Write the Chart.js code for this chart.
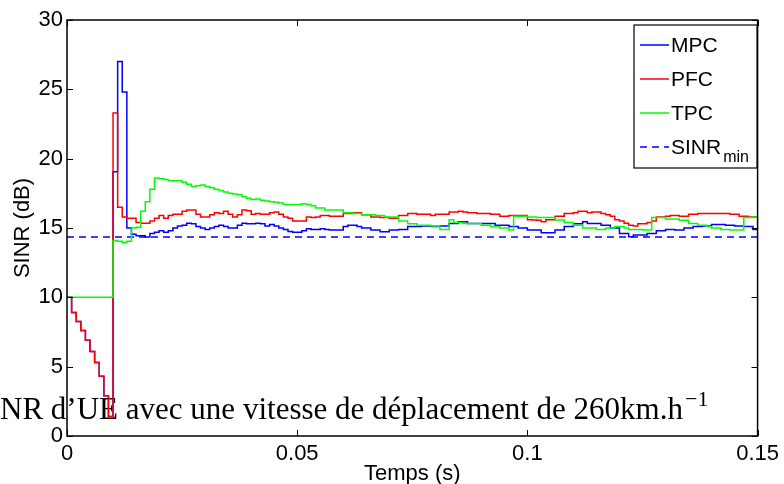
<!DOCTYPE html>
<html>
<head>
<meta charset="utf-8">
<script src="https://cdn.jsdelivr.net/npm/chart.js@4.4.0/dist/chart.umd.min.js"></script>
<style>
  html, body { margin: 0; padding: 0; background: #fff; }
</style>
</head>
<body>
<canvas id="chart" width="784" height="484"></canvas>
<script>
// SINR per time step (dB), one value per 1 ms sample
const sampleTime = 0.001;

const mpcSinr = [10, 8.9, 8.25, 7.6, 6.9, 6.1, 5.3, 4.3, 2.9, 1.4,
  19.05, 27.0, 24.8, 15.0, 14.55, 14.45, 14.45, 14.35, 14.6, 14.7,
  14.8, 14.7, 14.8, 15.0, 15.15, 15.2, 15.35, 15.3, 15.1, 15.0,
  14.9, 15.0, 15.1, 15.2, 15.1, 15.0, 15.0, 15.2, 15.35, 15.3,
  15.3, 15.35, 15.3, 15.15, 15.25, 15.15, 15.0, 14.9, 14.75, 14.7,
  14.7, 14.8, 14.95, 14.9, 14.9, 14.95, 14.9, 14.85, 14.85, 14.85,
  15.1, 15.2, 15.2, 15.1, 15.0, 15.0, 14.85, 14.85, 14.73, 14.73,
  14.85, 14.85, 14.9, 14.9, 15.1, 15.1, 15.1, 15.15, 15.15, 15.1,
  15.1, 15.15, 15.15, 15.33, 15.33, 15.45, 15.45, 15.33, 15.33, 15.33,
  15.33, 15.33, 15.33, 15.2, 15.2, 15.2, 15.1, 15.1, 15.0, 15.0,
  14.85, 14.85, 14.85, 14.65, 14.65, 14.65, 14.85, 14.85, 15.1, 15.1,
  15.3, 15.3, 15.45, 15.33, 15.33, 15.33, 15.2, 15.2, 15.0, 15.0,
  14.6, 14.6, 14.37, 14.49, 14.49, 14.49, 14.6, 14.6, 14.8, 14.8,
  14.9, 14.9, 14.85, 14.85, 15.0, 15.0, 15.1, 15.1, 15.15, 15.15,
  15.25, 15.25, 15.25, 15.2, 15.2, 15.15, 15.15, 15.1, 15.1, 14.9,
  14.9];

const pfcSinr = [10, 8.9, 8.25, 7.6, 6.9, 6.1, 5.3, 4.3, 2.9, 1.4,
  23.3, 16.5, 15.8, 15.7, 15.7, 15.4, 15.35, 15.35, 15.5, 15.7,
  15.9, 15.7, 15.9, 16.0, 16.0, 16.2, 16.3, 16.3, 16.0, 15.8,
  15.8, 15.95, 16.1, 16.05, 16.2, 16.0, 15.8, 15.95, 16.3, 16.25,
  16.0, 16.05, 16.0, 16.0, 16.1, 16.15, 16.0, 15.8, 15.7, 15.5,
  15.5, 15.5, 15.8, 15.75, 15.8, 15.9, 15.9, 15.85, 15.85, 15.85,
  16.05, 16.05, 16.1, 16.1, 15.95, 15.95, 15.8, 15.8, 15.75, 15.75,
  15.7, 15.7, 15.9, 15.9, 16.05, 16.05, 16.0, 16.0, 16.0, 15.9,
  16.0, 16.0, 16.0, 16.15, 16.15, 16.2, 16.15, 16.1, 16.1, 16.05,
  16.05, 16.05, 16.0, 16.0, 15.85, 15.85, 15.9, 15.9, 15.9, 15.9,
  15.6, 15.57, 15.55, 15.45, 15.6, 15.6, 15.85, 15.85, 16.05, 16.05,
  16.1, 16.2, 16.2, 16.1, 16.15, 16.15, 16.05, 15.95, 15.85, 15.6,
  15.5, 15.35, 15.2, 15.15, 15.3, 15.3, 15.4, 15.5, 15.8, 15.8,
  15.85, 15.9, 15.9, 15.85, 15.85, 16.0, 16.0, 16.05, 16.05, 16.05,
  16.05, 16.05, 16.05, 16.05, 16.0, 16.0, 15.85, 15.85, 15.8, 15.8,
  15.8];

const tpcSinr = [10, 10, 10, 10, 10, 10, 10, 10, 10, 10,
  14.1, 14.05, 13.95, 14.05, 15.0, 15.05, 16.2, 16.9, 17.8, 18.6,
  18.55, 18.5, 18.4, 18.4, 18.4, 18.3, 18.15, 18.0, 18.05, 18.1,
  18.0, 17.9, 17.8, 17.7, 17.6, 17.5, 17.45, 17.4, 17.25, 17.15,
  17.05, 17.1, 17.0, 16.95, 16.9, 16.85, 16.8, 16.7, 16.7, 16.7,
  16.7, 16.75, 16.7, 16.6, 16.45, 16.45, 16.3, 16.3, 16.3, 16.3,
  16.1, 16.1, 16.05, 16.05, 15.95, 15.95, 15.95, 15.9, 15.9, 15.8,
  15.8, 15.8, 15.5, 15.5, 15.3, 15.3, 15.2, 15.2, 15.2, 15.15,
  15.15, 14.9, 14.9, 15.6, 15.4, 15.4, 15.33, 15.33, 15.33, 15.33,
  15.2, 15.2, 15.1, 15.1, 15.0, 15.0, 14.85, 15.85, 15.85, 15.85,
  15.8, 15.8, 15.75, 15.75, 15.75, 15.75, 15.57, 15.57, 15.4, 15.4,
  15.2, 15.2, 15.0, 15.0, 15.0, 14.9, 14.9, 15.0, 15.0, 15.1,
  15.1, 15.0, 14.9, 14.9, 14.9, 14.85, 14.85, 15.75, 15.75, 15.75,
  15.65, 15.65, 15.65, 15.55, 15.55, 15.33, 15.33, 15.2, 15.2, 15.1,
  15.0, 15.0, 14.9, 14.9, 14.85, 14.85, 14.85, 15.75, 15.75, 15.8,
  15.8];

const sinrMin = 14.35;
const timeRange = [0, 0.15];
const timeTicks = [0, 0.05, 0.1, 0.15];
const sinrTicks = [0, 5, 10, 15, 20, 25, 30];

const caption = 'SINR d\u2019UE avec une vitesse de d\u00e9placement de 260km.h';
const captionExp = '\u22121';

const times = mpcSinr.map((_, i) => i * sampleTime);
const toPoints = (vals) => vals.map((v, i) => ({ x: times[i], y: v }));

Chart.defaults.font.family = '"Liberation Sans", Arial, sans-serif';
Chart.defaults.color = '#000';

// matlab style box, inward ticks, overlaid caption and legend
const matlabFrame = {
  id: 'matlabFrame',
  beforeDatasetsDraw(chart) {
    const ctx = chart.ctx;
    ctx.save();
    ctx.fillStyle = '#000';
    ctx.textBaseline = 'alphabetic';
    ctx.font = '28px "Liberation Serif"';
    // the caption is cut at the left edge: "SI" falls outside the picture
    const visible = ctx.measureText(caption).width - ctx.measureText('SI').width;
    const size = 28 * 683 / visible;
    ctx.font = size.toFixed(2) + 'px "Liberation Serif"';
    const w = ctx.measureText(caption).width;
    ctx.fillText(caption, 683 - w, 419);
    ctx.font = Math.round(size * 0.7) + 'px "Liberation Serif"';
    ctx.fillText(captionExp, 685, 406);
    ctx.restore();
  },
  afterDatasetsDraw(chart) {
    const ctx = chart.ctx;
    const a = chart.chartArea;
    const xs = chart.scales.x, ys = chart.scales.y;
    ctx.save();
    ctx.strokeStyle = '#000';
    ctx.lineWidth = 1.5;
    ctx.strokeRect(a.left, a.top, a.right - a.left, a.bottom - a.top);
    ctx.lineWidth = 1;
    ctx.beginPath();
    ys.ticks.forEach(t => {
      const y = Math.round(ys.getPixelForValue(t.value)) + 0.5;
      ctx.moveTo(a.left, y); ctx.lineTo(a.left + 6, y);
      ctx.moveTo(a.right, y); ctx.lineTo(a.right - 6, y);
    });
    xs.ticks.forEach(t => {
      const x = Math.round(xs.getPixelForValue(t.value)) + 0.5;
      ctx.moveTo(x, a.bottom); ctx.lineTo(x, a.bottom - 6);
      ctx.moveTo(x, a.top); ctx.lineTo(x, a.top + 6);
    });
    ctx.stroke();

    // legend box
    const bx = 634, by = 25, bw = 123, bh = 143;
    ctx.fillStyle = '#fff';
    ctx.fillRect(bx, by, bw, bh);
    ctx.lineWidth = 1.2;
    ctx.strokeRect(bx, by, bw, bh);
    chart.data.datasets.forEach((ds, i) => {
      const y = by + 20 + i * 34;
      ctx.strokeStyle = ds.borderColor;
      ctx.lineWidth = 1.5;
      ctx.setLineDash(ds.borderDash || []);
      ctx.beginPath();
      ctx.moveTo(bx + 6, y); ctx.lineTo(bx + 35, y);
      ctx.stroke();
      ctx.setLineDash([]);
      ctx.fillStyle = '#000';
      ctx.textBaseline = 'middle';
      ctx.font = '21px "Liberation Sans", Arial';
      const parts = ds.label.split('_');
      ctx.fillText(parts[0], bx + 37, y + 1);
      if (parts[1]) {
        const w0 = ctx.measureText(parts[0]).width;
        ctx.font = '16px "Liberation Sans", Arial';
        ctx.fillText(parts[1], bx + 37 + w0 + 2, y + 11);
      }
    });
    ctx.restore();
  }
};

new Chart(document.getElementById('chart'), {
  type: 'line',
  data: {
    datasets: [
      {
        label: 'MPC',
        data: toPoints(mpcSinr),
        borderColor: '#0000ff',
        borderWidth: 1.5,
        stepped: true,
        pointRadius: 0,
        order: 3
      },
      {
        label: 'PFC',
        data: toPoints(pfcSinr),
        borderColor: '#ff0000',
        borderWidth: 1.5,
        stepped: true,
        pointRadius: 0,
        order: 2
      },
      {
        label: 'TPC',
        data: toPoints(tpcSinr),
        borderColor: '#00ff00',
        borderWidth: 1.5,
        stepped: true,
        pointRadius: 0,
        order: 1
      },
      {
        label: 'SINR_min',
        data: timeRange.map(t => ({ x: t, y: sinrMin })),
        borderColor: '#0000ff',
        borderWidth: 1.5,
        borderDash: [7, 5],
        pointRadius: 0,
        order: 4
      }
    ]
  },
  options: {
    responsive: false,
    animation: false,
    events: [],
    layout: {
      padding: { top: 20, right: 22, left: 0, bottom: 0 }
    },
    plugins: {
      legend: { display: false },
      tooltip: { enabled: false }
    },
    scales: {
      x: {
        type: 'linear',
        min: timeRange[0],
        max: timeRange[1],
        afterFit: s => { s.height = 48; },
        afterBuildTicks: s => { s.ticks = timeTicks.map(v => ({ value: v })); },
        grid: { display: false, drawTicks: false },
        border: { display: false },
        ticks: {
          font: { size: 22 },
          padding: 5,
          maxRotation: 0,
          callback: v => String(parseFloat(v.toFixed(3)))
        },
        title: {
          display: true,
          text: 'Temps (s)',
          font: { size: 22 },
          padding: { top: 0, bottom: -3 }
        }
      },
      y: {
        min: 0,
        max: 30,
        afterFit: s => { s.width = 67; },
        afterBuildTicks: s => { s.ticks = sinrTicks.map(v => ({ value: v })); },
        grid: { display: false, drawTicks: false },
        border: { display: false },
        ticks: {
          font: { size: 22 },
          padding: 4
        },
        title: {
          display: true,
          text: 'SINR (dB)',
          font: { size: 22 },
          padding: { top: 10, bottom: 0 }
        }
      }
    }
  },
  plugins: [matlabFrame]
});
</script>
</body>
</html>
